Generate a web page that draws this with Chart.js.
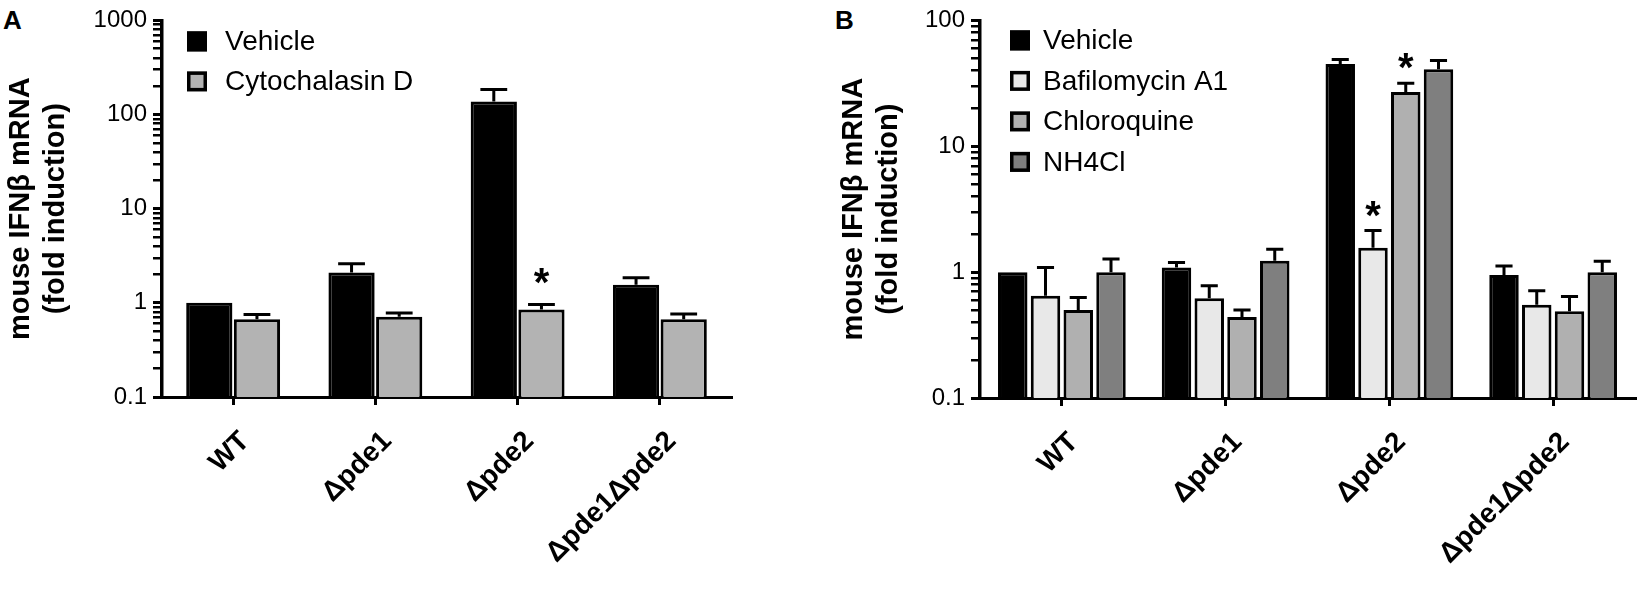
<!DOCTYPE html>
<html>
<head>
<meta charset="utf-8">
<script src="https://cdn.jsdelivr.net/npm/chart.js@4.4.1/dist/chart.umd.min.js"></script>
<style>
  body { margin: 0; background: #fff; width: 1650px; height: 590px; position: relative; overflow: hidden;
         font-family: "Liberation Sans", Arial, sans-serif; }
  #wa { position: absolute; left: 0; top: 0; width: 760px; height: 590px; }
  #wb { position: absolute; left: 825px; top: 0; width: 825px; height: 590px; }
  .tag { position: absolute; font-weight: bold; font-size: 26px; line-height: 1; }
</style>
</head>
<body>
<div class="tag" style="left:3px;top:7px">A</div>
<div class="tag" style="left:835px;top:7px">B</div>
<div id="wa"><canvas id="chartA"></canvas></div>
<div id="wb"><canvas id="chartB"></canvas></div>
<script>
// data
var categories = ['WT', 'Δpde1', 'Δpde2', 'Δpde1Δpde2'];
var yTitle = ['mouse IFNβ mRNA', '(fold induction)'];

// panel A
var seriesA = ['Vehicle', 'Cytochalasin D'];
var vehicleA = [1.0, 2.1, 138, 1.56];
var vehicleAErr = [null, 2.6, 185, 1.85];
var cytoA = [0.67, 0.71, 0.85, 0.67];
var cytoAErr = [0.75, 0.78, 0.96, 0.76];
var starsA = [[0, 0, 0, 0], [0, 0, 1, 0]];
var yTicksA = [0.1, 1, 10, 100, 1000];

// panel B
var seriesB = ['Vehicle', 'Bafilomycin A1', 'Chloroquine', 'NH4Cl'];
var vehicleB = [1.0, 1.09, 45, 0.95];
var vehicleBErr = [null, 1.19, 49, 1.12];
var bafB = [0.65, 0.62, 1.56, 0.55];
var bafBErr = [1.09, 0.78, 2.14, 0.71];
var chloroB = [0.5, 0.44, 27, 0.49];
var chloroBErr = [0.63, 0.5, 31.7, 0.64];
var nh4B = [1.0, 1.23, 41, 1.0];
var nh4BErr = [1.27, 1.52, 48, 1.22];
var starsB = [[0, 0, 0, 0], [0, 0, 1, 0], [0, 0, 1, 0], [0, 0, 0, 0]];
var yTicksB = [0.1, 1, 10, 100];

var FONT = '"Liberation Sans", Arial, sans-serif';
Chart.defaults.font.family = FONT;
Chart.defaults.color = '#000';

// minor ticks 1..9 for every decade
function logTicks(min, max) {
  var t = [];
  var e0 = Math.round(Math.log10(min)), e1 = Math.round(Math.log10(max));
  for (var e = e0; e < e1; e++) {
    for (var k = 1; k < 10; k++) t.push({ value: +(k * Math.pow(10, e)).toPrecision(3) });
  }
  t.push({ value: max });
  return t;
}

// upper error bars and significance stars
var errorBars = {
  id: 'errorBars',
  afterDatasetsDraw: function (chart, args, opts) {
    var ctx = chart.ctx, y = chart.scales.y;
    ctx.save();
    ctx.strokeStyle = '#000';
    ctx.fillStyle = '#000';
    ctx.lineWidth = 3;
    ctx.font = 'bold 40px ' + FONT;
    ctx.textAlign = 'center';
    ctx.textBaseline = 'alphabetic';
    chart.data.datasets.forEach(function (ds, i) {
      chart.getDatasetMeta(i).data.forEach(function (bar, j) {
        var e = ds.errTop[j];
        var top = bar.y;
        if (e != null) {
          top = y.getPixelForValue(e);
          var half = bar.width * 0.29;
          ctx.beginPath();
          ctx.moveTo(bar.x, bar.y);
          ctx.lineTo(bar.x, top);
          ctx.moveTo(bar.x - half, top);
          ctx.lineTo(bar.x + half, top);
          ctx.stroke();
        }
        if (ds.stars && ds.stars[j]) ctx.fillText('*', bar.x, top - opts.starGap);
      });
    });
    ctx.restore();
  }
};

// legend drawn inside the plot area
var boxLegend = {
  id: 'boxLegend',
  afterDraw: function (chart, args, opts) {
    var ctx = chart.ctx, area = chart.chartArea;
    ctx.save();
    ctx.font = '28px ' + FONT;
    ctx.textBaseline = 'middle';
    chart.data.datasets.forEach(function (ds, i) {
      var x = area.left + opts.dx, y = area.top + opts.dy + i * opts.gap;
      ctx.fillStyle = ds.backgroundColor;
      ctx.fillRect(x, y - 10, 20, 20);
      ctx.strokeStyle = '#000';
      ctx.lineWidth = 3.5;
      ctx.strokeRect(x + 1.75, y - 8.25, 16.5, 16.5);
      ctx.fillStyle = '#000';
      ctx.fillText(ds.label, x + opts.textGap, y + 1);
    });
    ctx.restore();
  }
};

function bars(label, values, err, stars, color) {
  return {
    label: label, data: values, errTop: err, stars: stars,
    backgroundColor: color, borderColor: '#000', borderWidth: 3
  };
}

function makeChart(id, datasets, yTicks, c) {
  return new Chart(document.getElementById(id), {
    type: 'bar',
    data: { labels: categories, datasets: datasets },
    plugins: [errorBars, boxLegend],
    options: {
      responsive: true,
      maintainAspectRatio: false,
      animation: false,
      categoryPercentage: c.catPct,
      barPercentage: c.barPct,
      layout: { padding: { top: c.top, right: c.right, left: 0, bottom: 0 } },
      plugins: {
        legend: { display: false },
        tooltip: { enabled: false },
        boxLegend: c.legend,
        errorBars: { starGap: c.starGap }
      },
      scales: {
        x: {
          afterFit: function (s) { s.height = c.xHeight; },
          grid: { offset: false, drawOnChartArea: false, tickLength: 8, color: '#000', lineWidth: 3 },
          border: { color: '#000', width: 3 },
          ticks: { maxRotation: 45, minRotation: 45, padding: 20, labelOffset: 12, color: '#000',
                   font: { size: 28, weight: 'bold' } }
        },
        y: {
          type: 'logarithmic',
          min: yTicks[0],
          max: yTicks[yTicks.length - 1],
          afterFit: function (s) { s.width = c.yWidth; },
          afterBuildTicks: function (s) { s.ticks = logTicks(s.min, s.max); },
          grid: {
            drawOnChartArea: false, tickLength: 9, color: '#000',
            lineWidth: function (ctx) { return ctx.tick && yTicks.indexOf(ctx.tick.value) >= 0 ? 3 : 2.5; }
          },
          border: { color: '#000', width: 3.5 },
          ticks: {
            autoSkip: false, padding: 6, color: '#000', font: { size: 24 },
            callback: function (v) { return yTicks.indexOf(v) >= 0 ? String(v) : ''; }
          },
          title: { display: true, text: yTitle, color: '#000', padding: { top: c.titlePad, bottom: 0 },
                   font: { size: 29, weight: 'bold', lineHeight: 1.2 } }
        }
      }
    }
  });
}

makeChart('chartA', [
  bars(seriesA[0], vehicleA, vehicleAErr, starsA[0], '#000000'),
  bars(seriesA[1], cytoA, cytoAErr, starsA[1], '#b3b3b3')
], yTicksA, {
  catPct: 0.67, barPct: 0.97, top: 15, right: 29, xHeight: 193, yWidth: 162, titlePad: 4, starGap: 9,
  legend: { dx: 25, dy: 21, gap: 40, textGap: 38 }
});

makeChart('chartB', [
  bars(seriesB[0], vehicleB, vehicleBErr, starsB[0], '#000000'),
  bars(seriesB[1], bafB, bafBErr, starsB[1], '#e8e8e8'),
  bars(seriesB[2], chloroB, chloroBErr, starsB[2], '#b0b0b0'),
  bars(seriesB[3], nh4B, nh4BErr, starsB[3], '#7f7f7f')
], yTicksB, {
  catPct: 0.8, barPct: 0.9, top: 18, right: 15, xHeight: 192, yWidth: 155, titlePad: 12, starGap: 2,
  legend: { dx: 30, dy: 20, gap: 40.5, textGap: 33 }
});
</script>
</body>
</html>
